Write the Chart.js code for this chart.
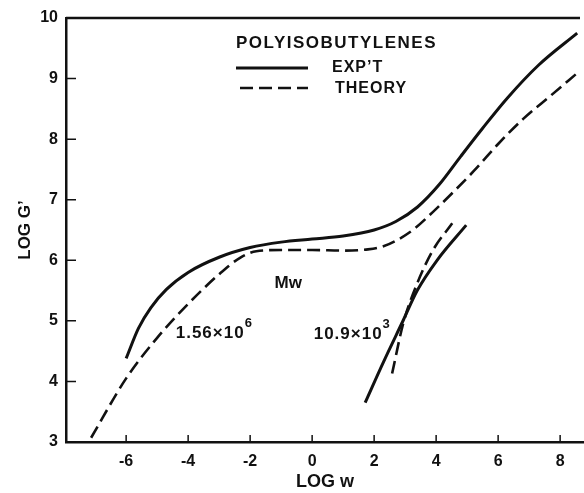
<!DOCTYPE html>
<html>
<head>
<meta charset="utf-8">
<script src="https://cdn.jsdelivr.net/npm/chart.js@4/dist/chart.umd.min.js"></script>
<style>
    body { margin: 0; background: #fff; }
    canvas { display: block; }
</style>
</head>
<body>
<canvas id="myLineChart" width="584" height="493"></canvas>
<script>

// Mw = 1.56 x 10^6
var expHighX = [-6.0, -5.6, -5.2, -4.7, -4.0, -3.0, -2.0, -1.0, 0, 1.0, 2.0, 2.7, 3.4, 4.1, 4.8, 5.5, 6.3, 7.3, 8.55];
var expHighY = [4.38, 4.88, 5.22, 5.52, 5.80, 6.05, 6.21, 6.30, 6.35, 6.40, 6.50, 6.64, 6.88, 7.25, 7.72, 8.18, 8.68, 9.22, 9.75];
var theoryHighX = [-7.13, -6.0, -5.0, -4.0, -3.0, -2.3, -1.8, -1.0, 0, 1.0, 1.8, 2.3, 2.8, 3.3, 3.9, 4.6, 5.3, 6.0, 6.8, 7.7, 8.55];
var theoryHighY = [3.07, 4.05, 4.72, 5.28, 5.77, 6.05, 6.15, 6.17, 6.17, 6.16, 6.18, 6.23, 6.35, 6.52, 6.80, 7.15, 7.52, 7.92, 8.33, 8.72, 9.09];

// Mw = 10.9 x 10^3
var expLowX = [1.71, 2.3, 2.94, 3.39, 4.03, 4.97];
var expLowY = [3.65, 4.32, 5.01, 5.5, 6.0, 6.58];
var theoryLowX = [2.58, 2.94, 3.39, 3.9, 4.52];
var theoryLowY = [4.13, 4.96, 5.62, 6.17, 6.61];

var xTicks = [-6, -4, -2, 0, 2, 4, 6, 8];
var yTicks = [3, 4, 5, 6, 7, 8, 9, 10];

var legendTitle = 'POLYISOBUTYLENES';
var legendLabels = ['EXP\u2019T', 'THEORY'];

var font = 'Liberation Sans';
var ink = '#111';

function toPoints(xs, ys) {
    return xs.map(function(x, i) {
        return { x: x, y: ys[i] };
    });
}

function curve(xs, ys, dashed) {
    return {
        data: toPoints(xs, ys),
        showLine: true,
        borderColor: ink,
        borderWidth: dashed ? 2.6 : 3,
        borderDash: dashed ? [13, 6] : [],
        pointRadius: 0,
        fill: false,
        cubicInterpolationMode: 'monotone'
    };
}

// text with a raised exponent, left edge at x
function drawPower(ctx, base, exp, x, y) {
    ctx.textAlign = 'left';
    ctx.textBaseline = 'middle';
    ctx.font = 'bold 17px "' + font + '"';
    ctx.letterSpacing = '1px';
    ctx.fillText(base, x, y);
    var w = ctx.measureText(base).width;
    ctx.font = 'bold 13px "' + font + '"';
    ctx.fillText(exp, x + w, y - 10);
    ctx.letterSpacing = '0px';
}

var paperFrame = {
    id: 'paperFrame',
    afterDraw: function(chart) {
        var ctx = chart.ctx;
        var area = chart.chartArea;
        var xs = chart.scales.x;
        var ys = chart.scales.y;

        ctx.save();
        ctx.strokeStyle = ink;
        ctx.fillStyle = ink;

        // top border
        ctx.lineWidth = 2.5;
        ctx.beginPath();
        ctx.moveTo(area.left, area.top);
        ctx.lineTo(area.right - 4, area.top);
        ctx.stroke();

        // inward ticks
        ctx.lineWidth = 1.5;
        ctx.beginPath();
        yTicks.forEach(function(v) {
            var py = ys.getPixelForValue(v);
            ctx.moveTo(area.left, py);
            ctx.lineTo(area.left + 10, py);
        });
        xTicks.forEach(function(v) {
            var px = xs.getPixelForValue(v);
            ctx.moveTo(px, area.bottom);
            ctx.lineTo(px, area.bottom - 7);
        });
        ctx.stroke();

        // legend
        ctx.textAlign = 'left';
        ctx.textBaseline = 'middle';
        ctx.font = 'bold 17px "' + font + '"';
        ctx.letterSpacing = '1.5px';
        ctx.fillText(legendTitle, 236, 43);
        ctx.font = 'bold 16px "' + font + '"';
        ctx.letterSpacing = '1px';
        ctx.fillText(legendLabels[0], 332, 68);
        ctx.fillText(legendLabels[1], 335, 89);
        ctx.letterSpacing = '0px';

        ctx.lineWidth = 3;
        ctx.beginPath();
        ctx.moveTo(236, 68);
        ctx.lineTo(308, 68);
        ctx.stroke();

        ctx.lineWidth = 2.6;
        ctx.setLineDash([13, 6]);
        ctx.beginPath();
        ctx.moveTo(240, 88);
        ctx.lineTo(308, 88);
        ctx.stroke();
        ctx.setLineDash([]);

        // molecular weight labels
        ctx.font = 'bold 17px "' + font + '"';
        ctx.textAlign = 'center';
        ctx.fillText('Mw', xs.getPixelForValue(-0.77), ys.getPixelForValue(5.62));

        drawPower(ctx, '1.56\u00d710', '6', xs.getPixelForValue(-4.4), ys.getPixelForValue(4.79));
        drawPower(ctx, '10.9\u00d710', '3', xs.getPixelForValue(0.05), ys.getPixelForValue(4.78));

        ctx.restore();
    }
};

var ctx = document.getElementById('myLineChart').getContext('2d');
new Chart(ctx, {
    type: 'scatter',
    data: {
        datasets: [
            curve(expHighX, expHighY, false),
            curve(theoryHighX, theoryHighY, true),
            curve(expLowX, expLowY, false),
            curve(theoryLowX, theoryLowY, true)
        ]
    },
    plugins: [paperFrame],
    options: {
        responsive: false,
        animation: false,
        layout: {
            padding: { top: 18, right: 0, left: 0, bottom: 0 }
        },
        plugins: {
            legend: { display: false },
            tooltip: { enabled: false }
        },
        scales: {
            x: {
                type: 'linear',
                min: -7.94,
                max: 8.77,
                afterBuildTicks: function(scale) {
                    scale.ticks = xTicks.map(function(v) { return { value: v }; });
                },
                afterFit: function(scale) {
                    scale.height = 51;
                },
                grid: { drawOnChartArea: false, drawTicks: false },
                border: { display: true, color: ink, width: 2.5 },
                ticks: {
                    padding: 10,
                    color: ink,
                    font: { family: font, size: 16, weight: 'bold' }
                },
                title: {
                    display: true,
                    text: 'LOG w',
                    color: ink,
                    padding: { top: 2, bottom: 0 },
                    font: { family: font, size: 18, weight: 'bold' }
                }
            },
            y: {
                type: 'linear',
                min: 3,
                max: 10,
                afterBuildTicks: function(scale) {
                    scale.ticks = yTicks.map(function(v) { return { value: v }; });
                },
                afterFit: function(scale) {
                    scale.width = 66;
                },
                grid: { drawOnChartArea: false, drawTicks: false },
                border: { display: true, color: ink, width: 2.5 },
                ticks: {
                    padding: 8,
                    color: ink,
                    font: { family: font, size: 16, weight: 'bold' }
                },
                title: {
                    display: true,
                    text: 'LOG G\u2019',
                    color: ink,
                    padding: { top: 15, bottom: 0 },
                    font: { family: font, size: 17, weight: 'bold' }
                }
            }
        }
    }
});

</script>
</body>
</html>
